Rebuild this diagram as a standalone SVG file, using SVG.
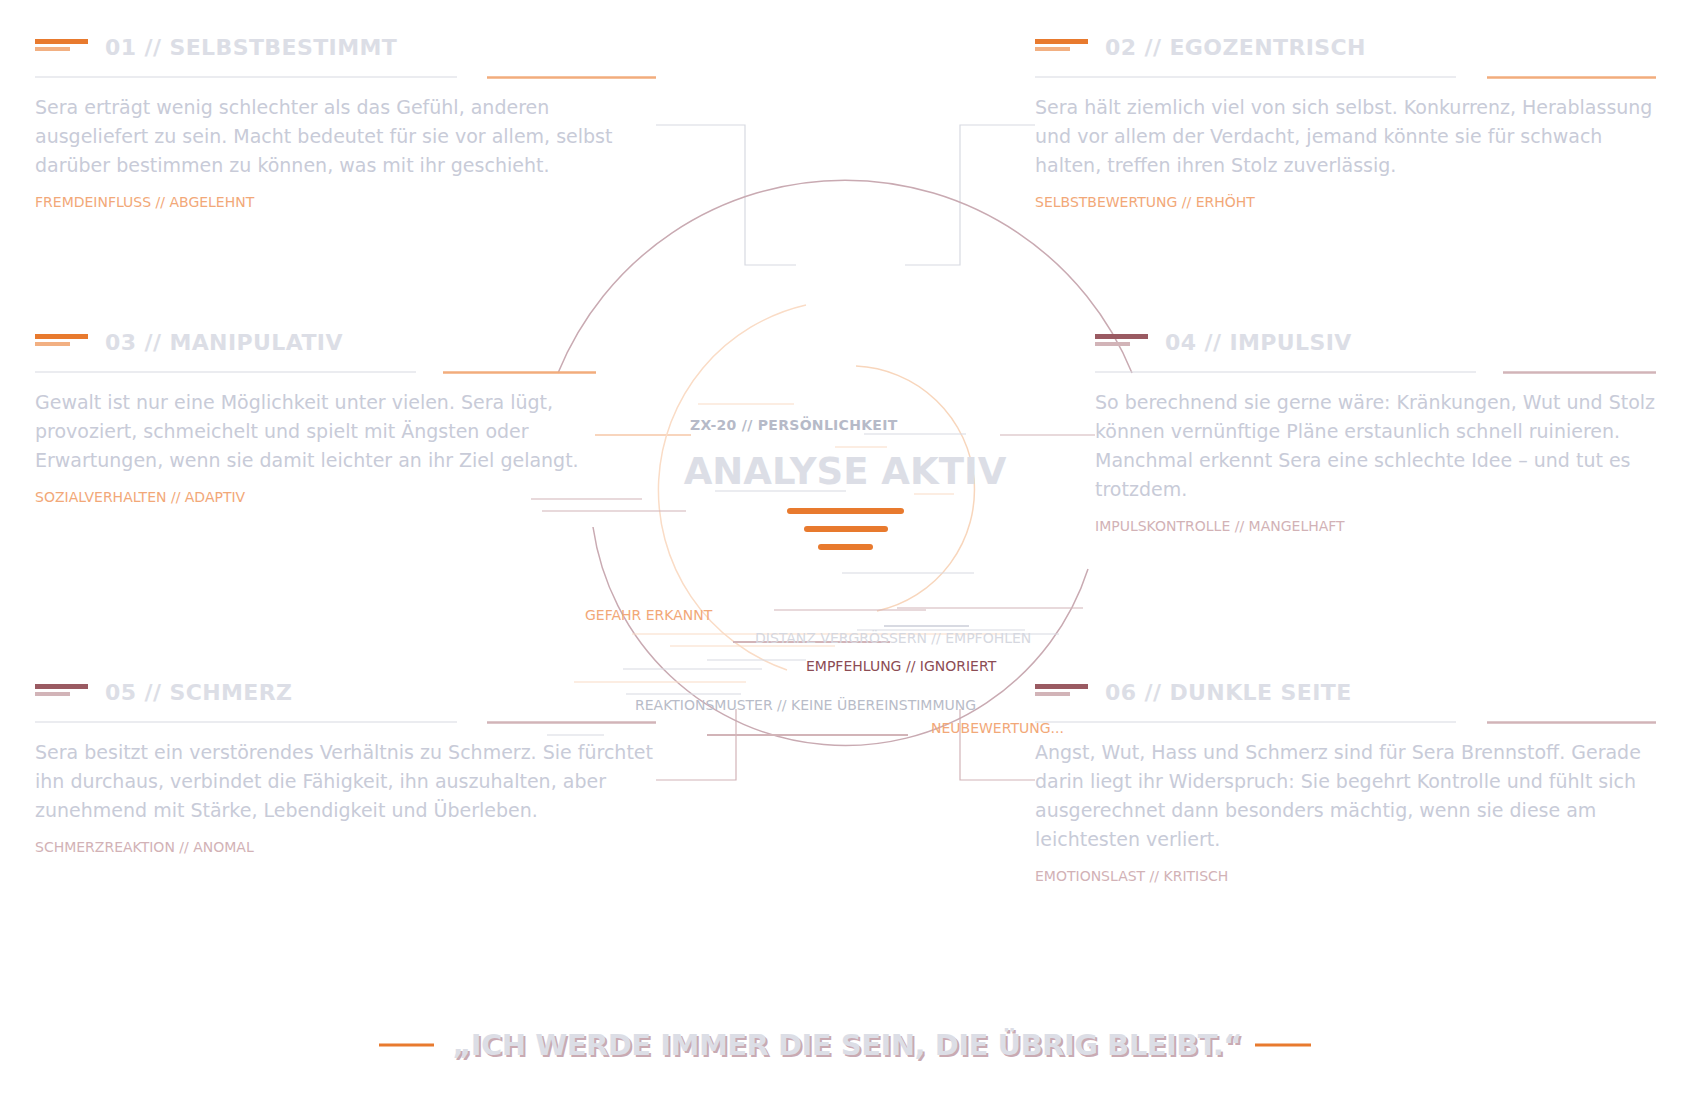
<svg xmlns="http://www.w3.org/2000/svg" width="1691" height="1096" viewBox="0 0 1691 1096">
<style>
text{font-family:"DejaVu Sans","Liberation Sans",sans-serif}
.h{font-size:22px;font-weight:bold;fill:#dcdee6;letter-spacing:0.4px}
.b{font-size:19px;fill:#c8cbd8}
.to{font-size:14px;fill:#f2a878}
.tm{font-size:14px;fill:#d2b2b6}
.dv{stroke:#d8dae2;stroke-width:1.2;fill:none}
.ao{stroke:#f2ac7c;stroke-width:2.5}
.am{stroke:#d2b4b8;stroke-width:2.5}
.bo1{fill:#e87a2e}.bo2{fill:#f2b082}
.bm1{fill:#9a5a62}.bm2{fill:#d2b4b8}
.cg{stroke:#d8dae2;stroke-width:1.2;fill:none}
.cm{stroke:#d2b4b8;stroke-width:1.2;fill:none}
.cp{stroke:#fadcc6;stroke-width:1.2;fill:none}
.lbl{font-size:14px}
</style>
<rect width="1691" height="1096" fill="#fff"/>

<g id="connectors">
<path class="cg" d="M656,125 H745 V265 H796"/>
<path class="cg" d="M1035,125 H960 V265 H905"/>
<path class="cm" d="M656,780 H736 V709"/>
<path class="cm" d="M1035,780 H960 V709"/>
<line x1="595" y1="435" x2="691" y2="435" stroke="#f2ac7c" stroke-width="1.2"/>
<line x1="1000" y1="435" x2="1095" y2="435" stroke="#d2b4b8" stroke-width="1.2"/>
</g>

<g id="rings">
<path d="M558,373 A310,310 0 0 1 1132,373" stroke="#c9aab2" stroke-width="1.5" fill="none"/>
<path d="M593,527 A255,255 0 0 0 1088,569" stroke="#c9aab2" stroke-width="1.5" fill="none"/>
<path d="M806,305 A190,190 0 0 0 787,670" stroke="#fadcc6" stroke-width="1.5" fill="none"/>
<path d="M856,366 A124,124 0 0 1 877,611" stroke="#f8d6bc" stroke-width="1.5" fill="none"/>
</g>

<g id="scanlines">
<line class="cp" x1="698" y1="404" x2="794" y2="404"/>
<line class="cg" x1="864" y1="434" x2="966" y2="434"/>
<line class="cp" x1="835" y1="447" x2="887" y2="447"/>
<line class="cg" x1="715" y1="491" x2="846" y2="491"/>
<line class="cp" x1="914" y1="494" x2="954" y2="494"/>
<line class="cm" x1="531" y1="499" x2="642" y2="499"/>
<line class="cm" x1="542" y1="511" x2="686" y2="511"/>
<line class="cg" x1="842" y1="573" x2="974" y2="573"/>
<line class="cm" x1="774" y1="610" x2="926" y2="610"/>
<line class="cm" x1="897" y1="608" x2="1083" y2="608"/>
<line x1="884" y1="626" x2="969" y2="626" stroke="#d8dae2" stroke-width="2"/>
<line class="cg" x1="857" y1="630" x2="1025" y2="630"/>
<line class="cp" x1="632" y1="634" x2="1000" y2="634"/>
<line class="cg" x1="1000" y1="634" x2="1059" y2="634"/>
<line x1="733" y1="642" x2="890" y2="642" stroke="#d2b4b8" stroke-width="2"/>
<line class="cp" x1="670" y1="646" x2="835" y2="646"/>
<line class="cg" x1="707" y1="660" x2="806" y2="660"/>
<line class="cg" x1="623" y1="669" x2="762" y2="669"/>
<line class="cp" x1="574" y1="682" x2="746" y2="682"/>
<line class="cg" x1="626" y1="694" x2="741" y2="694"/>
<line class="cg" x1="547" y1="735" x2="604" y2="735"/>
<line x1="707" y1="735" x2="908" y2="735" stroke="#d2b4b8" stroke-width="2"/>
</g>

<g id="core">
<text x="690" y="430" font-size="14" font-weight="bold" fill="#b6bac8" letter-spacing="0.3">ZX-20 // PERSÖNLICHKEIT</text>
<text x="845" y="484" text-anchor="middle" font-size="37" font-weight="bold" fill="#dcdee6">ANALYSE AKTIV</text>
<line x1="790" y1="511" x2="901" y2="511" stroke="#e87a2e" stroke-width="6" stroke-linecap="round"/>
<line x1="807" y1="529" x2="885" y2="529" stroke="#e87a2e" stroke-width="6" stroke-linecap="round"/>
<line x1="821" y1="547" x2="870" y2="547" stroke="#e87a2e" stroke-width="6" stroke-linecap="round"/>
<text class="lbl" x="585" y="620" fill="#f2a878">GEFAHR ERKANNT</text>
<text class="lbl" x="755" y="643" fill="#d6d8e0">DISTANZ VERGRÖSSERN // EMPFOHLEN</text>
<text class="lbl" x="806" y="671" fill="#8c4c54">EMPFEHLUNG // IGNORIERT</text>
<text class="lbl" x="635" y="710" fill="#b8bcc8">REAKTIONSMUSTER // KEINE ÜBEREINSTIMMUNG</text>
<text class="lbl" x="931" y="733" fill="#f2a878">NEUBEWERTUNG...</text>
</g>

<g id="card01">
<rect class="bo1" x="35" y="39" width="53" height="5"/><rect class="bo2" x="35" y="47" width="35" height="4"/>
<text class="h" x="105" y="55">01 // SELBSTBESTIMMT</text>
<line class="dv" x1="35" y1="77" x2="457" y2="77"/><line class="ao" x1="487" y1="77.5" x2="656" y2="77.5"/>
<text class="b" x="35" y="114">Sera erträgt wenig schlechter als das Gefühl, anderen</text>
<text class="b" x="35" y="143">ausgeliefert zu sein. Macht bedeutet für sie vor allem, selbst</text>
<text class="b" x="35" y="172">darüber bestimmen zu können, was mit ihr geschieht.</text>
<text class="to" x="35" y="207">FREMDEINFLUSS // ABGELEHNT</text>
</g>

<g id="card02">
<rect class="bo1" x="1035" y="39" width="53" height="5"/><rect class="bo2" x="1035" y="47" width="35" height="4"/>
<text class="h" x="1105" y="55">02 // EGOZENTRISCH</text>
<line class="dv" x1="1035" y1="77" x2="1456" y2="77"/><line class="ao" x1="1487" y1="77.5" x2="1656" y2="77.5"/>
<text class="b" x="1035" y="114">Sera hält ziemlich viel von sich selbst. Konkurrenz, Herablassung</text>
<text class="b" x="1035" y="143">und vor allem der Verdacht, jemand könnte sie für schwach</text>
<text class="b" x="1035" y="172">halten, treffen ihren Stolz zuverlässig.</text>
<text class="to" x="1035" y="207">SELBSTBEWERTUNG // ERHÖHT</text>
</g>

<g id="card03">
<rect class="bo1" x="35" y="334" width="53" height="5"/><rect class="bo2" x="35" y="342" width="35" height="4"/>
<text class="h" x="105" y="350">03 // MANIPULATIV</text>
<line class="dv" x1="35" y1="372" x2="416" y2="372"/><line class="ao" x1="443" y1="372.5" x2="596" y2="372.5"/>
<text class="b" x="35" y="409">Gewalt ist nur eine Möglichkeit unter vielen. Sera lügt,</text>
<text class="b" x="35" y="438">provoziert, schmeichelt und spielt mit Ängsten oder</text>
<text class="b" x="35" y="467">Erwartungen, wenn sie damit leichter an ihr Ziel gelangt.</text>
<text class="to" x="35" y="502">SOZIALVERHALTEN // ADAPTIV</text>
</g>

<g id="card04">
<rect class="bm1" x="1095" y="334" width="53" height="5"/><rect class="bm2" x="1095" y="342" width="35" height="4"/>
<text class="h" x="1165" y="350">04 // IMPULSIV</text>
<line class="dv" x1="1095" y1="372" x2="1476" y2="372"/><line class="am" x1="1503" y1="372.5" x2="1656" y2="372.5"/>
<text class="b" x="1095" y="409">So berechnend sie gerne wäre: Kränkungen, Wut und Stolz</text>
<text class="b" x="1095" y="438">können vernünftige Pläne erstaunlich schnell ruinieren.</text>
<text class="b" x="1095" y="467">Manchmal erkennt Sera eine schlechte Idee – und tut es</text>
<text class="b" x="1095" y="496">trotzdem.</text>
<text class="tm" x="1095" y="531">IMPULSKONTROLLE // MANGELHAFT</text>
</g>

<g id="card05">
<rect class="bm1" x="35" y="684" width="53" height="5"/><rect class="bm2" x="35" y="692" width="35" height="4"/>
<text class="h" x="105" y="700">05 // SCHMERZ</text>
<line class="dv" x1="35" y1="722" x2="457" y2="722"/><line class="am" x1="487" y1="722.5" x2="656" y2="722.5"/>
<text class="b" x="35" y="759">Sera besitzt ein verstörendes Verhältnis zu Schmerz. Sie fürchtet</text>
<text class="b" x="35" y="788">ihn durchaus, verbindet die Fähigkeit, ihn auszuhalten, aber</text>
<text class="b" x="35" y="817">zunehmend mit Stärke, Lebendigkeit und Überleben.</text>
<text class="tm" x="35" y="852">SCHMERZREAKTION // ANOMAL</text>
</g>

<g id="card06">
<rect class="bm1" x="1035" y="684" width="53" height="5"/><rect class="bm2" x="1035" y="692" width="35" height="4"/>
<text class="h" x="1105" y="700">06 // DUNKLE SEITE</text>
<line class="dv" x1="1035" y1="722" x2="1456" y2="722"/><line class="am" x1="1487" y1="722.5" x2="1656" y2="722.5"/>
<text class="b" x="1035" y="759">Angst, Wut, Hass und Schmerz sind für Sera Brennstoff. Gerade</text>
<text class="b" x="1035" y="788">darin liegt ihr Widerspruch: Sie begehrt Kontrolle und fühlt sich</text>
<text class="b" x="1035" y="817">ausgerechnet dann besonders mächtig, wenn sie diese am</text>
<text class="b" x="1035" y="846">leichtesten verliert.</text>
<text class="tm" x="1035" y="881">EMOTIONSLAST // KRITISCH</text>
</g>

<g id="quote">
<line x1="379" y1="1045" x2="434" y2="1045" stroke="#e87a2e" stroke-width="3"/>
<line x1="1255" y1="1045" x2="1311" y2="1045" stroke="#e87a2e" stroke-width="3"/>
<text x="849" y="1057" text-anchor="middle" font-size="29" font-weight="bold" letter-spacing="-0.5" fill="#c9aab2">„ICH WERDE IMMER DIE SEIN, DIE ÜBRIG BLEIBT.“</text>
<text x="847" y="1055" text-anchor="middle" font-size="29" font-weight="bold" letter-spacing="-0.5" fill="#dcdee6">„ICH WERDE IMMER DIE SEIN, DIE ÜBRIG BLEIBT.“</text>
</g>
</svg>
